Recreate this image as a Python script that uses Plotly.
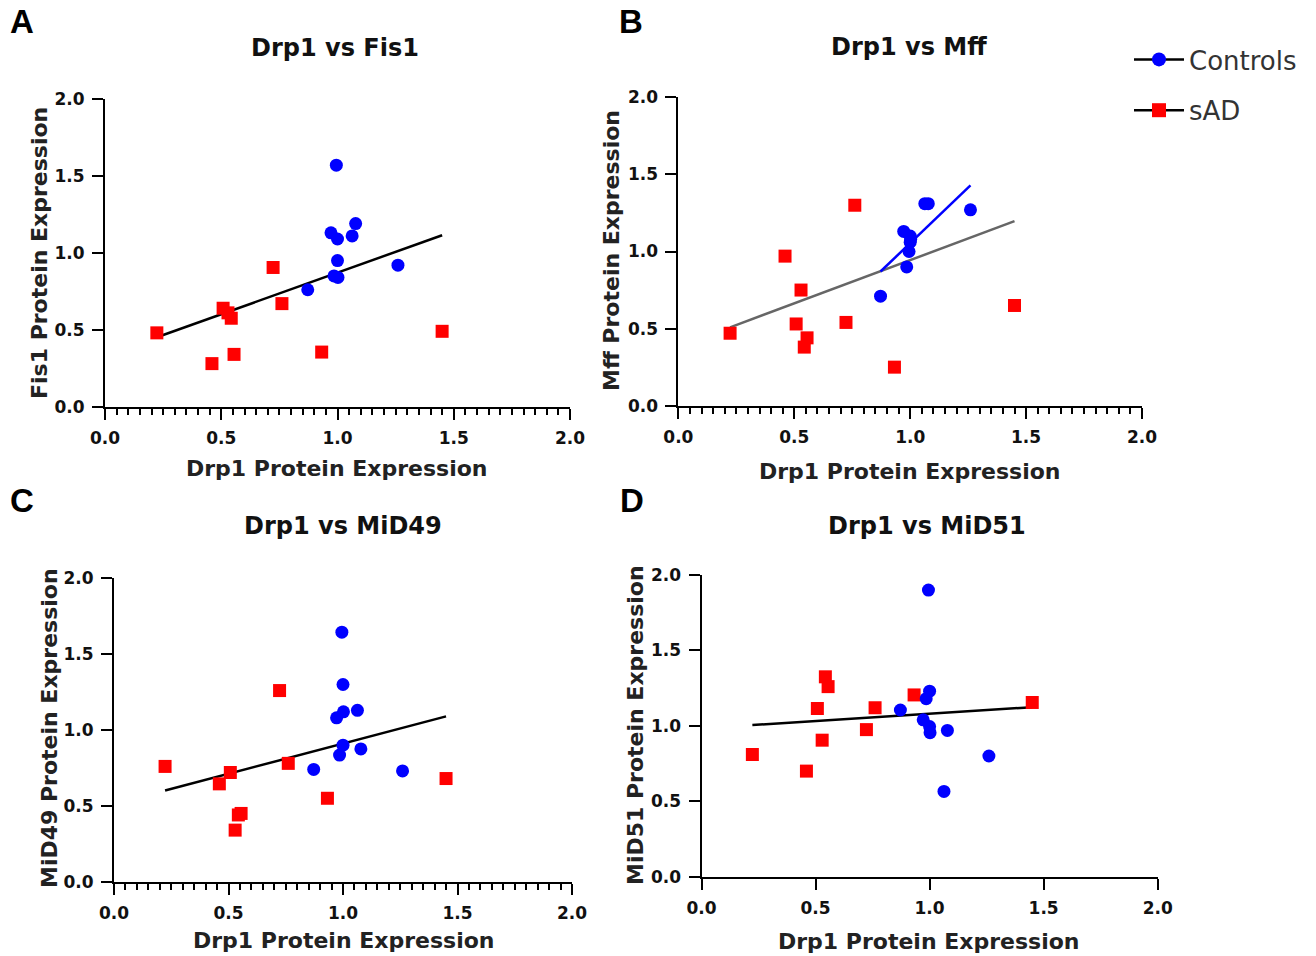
import numpy as np
import plotly.graph_objects as go

# Drp1 expression per sample (shared x values for every panel)
drp1_ctrl = [0.872, 0.972, 0.985, 0.995, 1.000, 1.000, 1.002, 1.063, 1.078, 1.260]
drp1_sad = [0.223, 0.460, 0.508, 0.529, 0.543, 0.555, 0.723, 0.761, 0.932, 1.450]

# Partner protein expression, same sample order as above
fis1_ctrl = [0.76, 1.13, 0.85, 1.57, 0.95, 1.09, 0.84, 1.11, 1.19, 0.92]
fis1_sad = [0.48, 0.28, 0.64, 0.61, 0.575, 0.34, 0.905, 0.67, 0.355, 0.49]

mff_ctrl = [0.71, 1.13, 0.90, 1.00, 1.10, 1.06, 1.08, 1.31, 1.31, 1.27]
mff_sad = [0.47, 0.97, 0.53, 0.75, 0.38, 0.44, 0.54, 1.30, 0.25, 0.65]

mid49_ctrl = [0.74, 1.08, 0.835, 1.645, 1.30, 0.90, 1.12, 1.13, 0.875, 0.73]
mid49_sad = [0.76, 0.645, 0.72, 0.34, 0.44, 0.45, 1.26, 0.78, 0.55, 0.68]

mid51_ctrl = [1.105, 1.04, 1.18, 1.90, 1.23, 0.995, 0.955, 0.565, 0.97, 0.80]
mid51_sad = [0.81, 0.70, 1.115, 0.905, 1.325, 1.26, 0.975, 1.12, 1.205, 1.155]

tick_vals = [0.0, 0.5, 1.0, 1.5, 2.0]
tick_text = ["0.0", "0.5", "1.0", "1.5", "2.0"]

W, H = 1316, 956


def px(x):
    return x / W


def py(y):
    return 1 - y / H


# panel layout in pixels: (x0, x1) of axis, (y_bottom, y_top) of axis
panels = [
    dict(letter="A", title="Drp1 vs Fis1", ytitle="Fis1 Protein Expression",
         ctrl=fis1_ctrl, sad=fis1_sad, xs=(105, 570), ys=(406.7, 99),
         minor=True, line_color="black", ctrl_fit=False,
         letter_pos=(22, 22), title_pos=(335, 48), xt_pos=(336, 468), yt_pos=(39, 253)),
    dict(letter="B", title="Drp1 vs Mff", ytitle="Mff Protein Expression",
         ctrl=mff_ctrl, sad=mff_sad, xs=(678.4, 1142), ys=(405.7, 97.3),
         minor=True, line_color="#666666", ctrl_fit=True,
         letter_pos=(631, 22), title_pos=(909, 47), xt_pos=(909, 471), yt_pos=(612, 251)),
    dict(letter="C", title="Drp1 vs MiD49", ytitle="MiD49 Protein Expression",
         ctrl=mid49_ctrl, sad=mid49_sad, xs=(114, 572), ys=(881.7, 578.3),
         minor=True, line_color="black", ctrl_fit=False,
         letter_pos=(22, 500), title_pos=(343, 526), xt_pos=(343, 940), yt_pos=(49, 728)),
    dict(letter="D", title="Drp1 vs MiD51", ytitle="MiD51 Protein Expression",
         ctrl=mid51_ctrl, sad=mid51_sad, xs=(701.5, 1157.7), ys=(876.7, 575),
         minor=False, line_color="black", ctrl_fit=False,
         letter_pos=(632, 500), title_pos=(927, 526), xt_pos=(928, 941), yt_pos=(635, 725)),
]

fig = go.Figure()
annotations = []
tick_font = dict(family="DejaVu Sans", size=17, color="#111111", weight="bold")

for i, p in enumerate(panels, start=1):
    xa = "x" if i == 1 else f"x{i}"
    ya = "y" if i == 1 else f"y{i}"

    # least-squares fit over all samples, drawn across the Drp1 range
    all_x = np.array(drp1_ctrl + drp1_sad)
    all_y = np.array(p["ctrl"] + p["sad"])
    slope, icpt = np.polyfit(all_x, all_y, 1)
    fx = np.array([all_x.min(), all_x.max()])
    fig.add_trace(go.Scatter(x=fx, y=slope * fx + icpt, mode="lines",
                             line=dict(color=p["line_color"], width=2.5),
                             showlegend=False, hoverinfo="skip", xaxis=xa, yaxis=ya))

    # controls-only fit
    if p["ctrl_fit"]:
        cx = np.array(drp1_ctrl)
        cs, ci = np.polyfit(cx, np.array(p["ctrl"]), 1)
        cfx = np.array([cx.min(), cx.max()])
        fig.add_trace(go.Scatter(x=cfx, y=cs * cfx + ci, mode="lines",
                                 line=dict(color="#0000FF", width=2.5),
                                 showlegend=False, hoverinfo="skip", xaxis=xa, yaxis=ya))

    fig.add_trace(go.Scatter(x=drp1_sad, y=p["sad"], mode="markers",
                             marker=dict(symbol="square", size=13, color="#FF0000"),
                             showlegend=False, xaxis=xa, yaxis=ya, cliponaxis=False))
    fig.add_trace(go.Scatter(x=drp1_ctrl, y=p["ctrl"], mode="markers",
                             marker=dict(symbol="circle", size=13, color="#0000FF"),
                             showlegend=False, xaxis=xa, yaxis=ya, cliponaxis=False))

    axis_common = dict(range=[0, 2], tickvals=tick_vals, ticktext=tick_text,
                       showline=True, linecolor="black", linewidth=2,
                       ticks="outside", ticklen=11, tickwidth=2, tickcolor="black",
                       showgrid=False, zeroline=False, tickfont=tick_font,
                       fixedrange=True, automargin=False)
    xkw = dict(axis_common, domain=[px(p["xs"][0]), px(p["xs"][1])],
               anchor=ya, ticklabelstandoff=4)
    if p["minor"]:
        xkw["minor"] = dict(dtick=0.05, ticks="outside", ticklen=6, tickwidth=2,
                            tickcolor="black", showgrid=False)
    ykw = dict(axis_common, domain=[py(p["ys"][0]), py(p["ys"][1])],
               anchor=xa, ticklabelstandoff=4)
    fig.update_layout({("xaxis" if i == 1 else f"xaxis{i}"): xkw,
                       ("yaxis" if i == 1 else f"yaxis{i}"): ykw})

    annotations.append(dict(text=p["letter"], x=px(p["letter_pos"][0]), y=py(p["letter_pos"][1]),
                            xref="paper", yref="paper", showarrow=False,
                            xanchor="center", yanchor="middle",
                            font=dict(family="Liberation Sans", size=33, color="black", weight="bold")))
    annotations.append(dict(text=p["title"], x=px(p["title_pos"][0]), y=py(p["title_pos"][1]),
                            xref="paper", yref="paper", showarrow=False,
                            xanchor="center", yanchor="middle",
                            font=dict(family="DejaVu Sans", size=24, color="#111111", weight="bold")))
    annotations.append(dict(text="Drp1 Protein Expression", x=px(p["xt_pos"][0]), y=py(p["xt_pos"][1]),
                            xref="paper", yref="paper", showarrow=False,
                            xanchor="center", yanchor="middle",
                            font=dict(family="DejaVu Sans", size=22, color="#222222", weight="bold")))
    annotations.append(dict(text=p["ytitle"], x=px(p["yt_pos"][0]), y=py(p["yt_pos"][1]),
                            xref="paper", yref="paper", showarrow=False, textangle=-90,
                            xanchor="center", yanchor="middle",
                            font=dict(family="DejaVu Sans", size=22, color="#222222", weight="bold")))

# legend entries
fig.add_trace(go.Scatter(x=[None], y=[None], mode="lines+markers", name="Controls",
                         line=dict(color="black", width=2.5),
                         marker=dict(symbol="circle", size=14, color="#0000FF"),
                         legendgroup="ctrl"))
fig.add_trace(go.Scatter(x=[None], y=[None], mode="lines+markers", name="sAD",
                         line=dict(color="black", width=2.5),
                         marker=dict(symbol="square", size=14, color="#FF0000"),
                         legendgroup="sad"))

fig.update_layout(
    width=W, height=H,
    margin=dict(l=0, r=0, t=0, b=0, pad=0, autoexpand=False),
    paper_bgcolor="white", plot_bgcolor="white",
    annotations=annotations,
    legend=dict(x=px(1129), y=py(36), xanchor="left", yanchor="top",
                font=dict(family="DejaVu Sans", size=26, color="#333333"),
                tracegroupgap=14, itemwidth=50, bgcolor="rgba(0,0,0,0)"),
)

fig.write_html("out.html")
